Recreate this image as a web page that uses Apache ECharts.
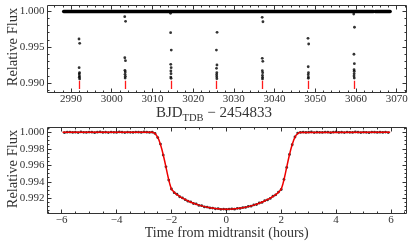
<!DOCTYPE html>
<html>
<head>
<meta charset="utf-8">
<script src="https://cdn.jsdelivr.net/npm/echarts@6/dist/echarts.min.js"></script>
<style>html,body{margin:0;padding:0;background:#fff;}#c{width:415px;height:249px;}</style>
</head>
<body>
<div id="c"></div>
<script>
// ---------- DATA: top panel (full light curve) ----------
const baselineSpans = [[2988.2, 3064.3], [3064.7, 3068.4]];   // continuous out-of-transit coverage (flux 1.000)
const baselineFlux = 1.0;
const transitEpochs = [2992.05, 3003.3, 3014.55, 3025.8, 3037.05, 3048.3, 3059.55];
const modelTopFluxRange = [0.99032, 0.98917];
const transitPoints = [
  [2991.97,0.99611],[2992.14,0.99551],[2992.0,0.99213],[2992.1,0.99143],[2992.03,0.99125],[2992.08,0.99097],[2992.05,0.99079],[2992.12,0.99056],
  [3003.2,0.99921],[3003.41,0.99857],[3003.22,0.99351],[3003.38,0.99310],[3003.25,0.99176],[3003.33,0.99153],[3003.28,0.99121],[3003.35,0.99093],[3003.3,0.99069],
  [3014.45,0.99968],[3014.47,0.99699],[3014.63,0.99458],[3014.5,0.99260],[3014.6,0.99213],[3014.53,0.99167],[3014.57,0.99129],[3014.52,0.99083],[3014.58,0.99065],
  [3025.88,0.99704],[3025.72,0.99458],[3025.85,0.99250],[3025.75,0.99204],[3025.82,0.99143],[3025.78,0.99115],[3025.8,0.99088],[3025.83,0.99060],
  [3036.96,0.99912],[3037.15,0.99851],[3036.98,0.99343],[3037.12,0.99301],[3037.0,0.99171],[3037.08,0.99143],[3037.03,0.99107],[3037.06,0.99079],[3037.04,0.99056],
  [3048.22,0.99621],[3048.38,0.99542],[3048.27,0.99226],[3048.33,0.99143],[3048.28,0.99115],[3048.31,0.99083],[3048.3,0.99065],
  [3059.45,0.99958],[3059.63,0.99774],[3059.5,0.99399],[3059.6,0.99268],[3059.53,0.99185],[3059.57,0.99163],[3059.55,0.99129],[3059.52,0.99097],[3059.58,0.99069]
];
const topXTicks = [2990, 3000, 3010, 3020, 3030, 3040, 3050, 3060, 3070];
const topYTicks = [0.990, 0.995, 1.000];

// ---------- DATA: bottom panel (phase-folded transit) ----------
const binStartHours = -5.9, binStepHours = 0.1;
const binnedFlux = [
  0.99996,1.00001,1.00003,0.99999,1.00002,0.99997,1.00004,1.00000,0.99998,1.00003,
  1.00001,0.99996,1.00002,1.00005,0.99999,1.00001,0.99997,1.00003,1.00000,0.99998,
  1.00004,1.00001,0.99997,1.00002,1.00000,0.99998,1.00003,1.00001,0.99999,1.00004,
  1.00002,0.99998,1.00001,
  0.99986,0.99936,0.99857,0.99724,0.99582,0.99421,0.99313,0.99268,0.99249,0.99219,
  0.99205,0.99183,0.99165,0.99156,0.99137,0.99132,0.99114,0.99111,0.99096,0.99094,
  0.99083,0.99082,0.99072,0.99075,0.99066,0.99070,0.99065,0.99069,0.99072,0.99068,
  0.99078,0.99077,0.99088,0.99090,0.99102,0.99105,0.99120,0.99125,0.99143,0.99150,
  0.99171,0.99180,0.99199,0.99226,0.99242,0.99276,0.99307,0.99429,0.99574,0.99731,
  0.99849,0.99943,0.99991,0.99999,
  1.00003,0.99998,1.00001,1.00004,0.99997,1.00002,1.00000,0.99998,1.00003,1.00001,
  0.99996,1.00002,1.00004,0.99999,1.00001,0.99997,1.00003,1.00000,0.99998,1.00004,
  1.00001,0.99997,1.00002,1.00000,0.99996,1.00003,1.00001,0.99998,1.00002,0.99999,
  1.00003,0.99997
];
const modelHours = [-5.97,-2.7,-2.65,-2.6,-2.55,-2.5,-2.45,-2.4,-2.35,-2.3,-2.25,-2.2,-2.15,-2.1,-2.05,-2.0,-1.9,-1.8,-1.7,-1.6,-1.4,-1.2,-1.0,-0.8,-0.6,-0.4,-0.2,0,
  0.2,0.4,0.6,0.8,1.0,1.2,1.4,1.6,1.7,1.8,1.9,2.0,2.05,2.1,2.15,2.2,2.25,2.3,2.35,2.4,2.45,2.5,2.55,2.6,2.65,2.7,5.97];
const modelFlux = [1.0,1.0,0.99998,0.99988,0.99968,0.99940,0.99902,0.99853,0.99795,0.99728,0.99655,0.99578,0.99500,0.99425,0.99360,0.99310,0.99272,0.99245,0.99222,0.99202,0.99168,0.99140,0.99117,0.99099,0.99085,0.99075,0.99069,0.99067,
  0.99069,0.99075,0.99085,0.99099,0.99117,0.99140,0.99168,0.99202,0.99222,0.99245,0.99272,0.99310,0.99360,0.99425,0.99500,0.99578,0.99655,0.99728,0.99795,0.99853,0.99902,0.99940,0.99968,0.99988,0.99998,1.0,1.0];
const botXTicks = [-6, -4, -2, 0, 2, 4, 6];
const botYTicks = [0.992, 0.994, 0.996, 0.998, 1.000];

// ---------- helpers ----------
function range(a, b, s) { const r = []; for (let v = a; v <= b + s / 1000; v += s) r.push(+v.toFixed(6)); return r; }
const topXMinor = range(2986, 3072, 2);
const topYMinor = range(0.989, 1.000, 0.001);
const botXMinor = range(-6.5, 6.5, 0.5);
const botYMinor = range(0.9905, 1.0005, 0.0005);

const FONT = "'Liberation Serif', 'DejaVu Serif', serif";
const INK = '#333';
const minusFmt = d => v => (v < 0 ? '\u2212' : '') + Math.abs(v).toFixed(d);

function axis(kind, grid, pos, min, max, ticks, len, labelFmt) {
  return {
    type: 'value', gridIndex: grid, position: pos, min: min, max: max, scale: true,
    axisLine: { show: false, onZero: false }, splitLine: { show: false },
    axisTick: { show: true, inside: true, length: len, customValues: ticks, lineStyle: { color: INK, width: 1 } },
    axisLabel: { show: !!labelFmt, customValues: ticks, formatter: labelFmt || undefined, margin: kind === 'x' ? 1.5 : 3,
      fontFamily: FONT, fontSize: 11, color: INK }
  };
}

const topX = [2984.23, 3072.41], topY = [0.988681, 1.000764];
const botX = [-6.517, 6.565], botY = [0.990158, 1.000582];

const grids = [
  { left: 47.5, top: 5.5, width: 359, height: 87, show: true, borderColor: INK, borderWidth: 1, backgroundColor: 'transparent' },
  { left: 47.5, top: 5.5, width: 359, height: 87 },
  { left: 47.5, top: 127.5, width: 359, height: 86, show: true, borderColor: INK, borderWidth: 1, backgroundColor: 'transparent' },
  { left: 47.5, top: 127.5, width: 359, height: 86 }
];
const xAxes = [
  axis('x', 0, 'bottom', topX[0], topX[1], topXTicks, 4, v => String(v)),
  axis('x', 0, 'top', topX[0], topX[1], topXTicks, 4),
  axis('x', 1, 'bottom', topX[0], topX[1], topXMinor, 2),
  axis('x', 1, 'top', topX[0], topX[1], topXMinor, 2),
  axis('x', 2, 'bottom', botX[0], botX[1], botXTicks, 4, minusFmt(0)),
  axis('x', 2, 'top', botX[0], botX[1], botXTicks, 4),
  axis('x', 3, 'bottom', botX[0], botX[1], botXMinor, 2),
  axis('x', 3, 'top', botX[0], botX[1], botXMinor, 2)
];
const yAxes = [
  axis('y', 0, 'left', topY[0], topY[1], topYTicks, 4, minusFmt(3)),
  axis('y', 0, 'right', topY[0], topY[1], topYTicks, 4),
  axis('y', 1, 'left', topY[0], topY[1], topYMinor, 2),
  axis('y', 1, 'right', topY[0], topY[1], topYMinor, 2),
  axis('y', 2, 'left', botY[0], botY[1], botYTicks, 4, minusFmt(3)),
  axis('y', 2, 'right', botY[0], botY[1], botYTicks, 4),
  axis('y', 3, 'left', botY[0], botY[1], botYMinor, 2),
  axis('y', 3, 'right', botY[0], botY[1], botYMinor, 2)
];

const series = [];
series.push({
  type: 'lines', coordinateSystem: 'cartesian2d', xAxisIndex: 0, yAxisIndex: 0, silent: true, z: 3,
  lineStyle: { color: '#000', width: 3.4, opacity: 1, cap: 'round' },
  data: baselineSpans.map(s => ({ coords: [[s[0], baselineFlux], [s[1], baselineFlux]] }))
});
series.push({
  type: 'scatter', xAxisIndex: 0, yAxisIndex: 0, symbolSize: 2.8, z: 4,
  itemStyle: { color: '#000' }, data: transitPoints
});
series.push({
  type: 'lines', coordinateSystem: 'cartesian2d', xAxisIndex: 0, yAxisIndex: 0, silent: true, z: 5,
  lineStyle: { color: '#ff1a1a', width: 1.3, opacity: 1 },
  data: transitEpochs.map(t => ({ coords: [[t, modelTopFluxRange[0]], [t, modelTopFluxRange[1]]] }))
});
series.push({
  type: 'scatter', xAxisIndex: 4, yAxisIndex: 4, symbolSize: 2.8, z: 4,
  itemStyle: { color: '#000' },
  data: binnedFlux.map((f, i) => [binStartHours + i * binStepHours, f])
});
series.push({
  type: 'line', xAxisIndex: 4, yAxisIndex: 4, showSymbol: false, z: 5,
  lineStyle: { color: '#ee0000', width: 1.5 },
  data: modelHours.map((h, i) => [h, modelFlux[i]])
});

const graphic = [
  { type: 'text', x: 13.5, y: 47, rotation: Math.PI / 2, silent: true,
    style: { text: 'Relative Flux', fontFamily: FONT, fontSize: 14.5, fill: INK, align: 'center', verticalAlign: 'middle' } },
  { type: 'text', x: 13.5, y: 169, rotation: Math.PI / 2, silent: true,
    style: { text: 'Relative Flux', fontFamily: FONT, fontSize: 14.5, fill: INK, align: 'center', verticalAlign: 'middle' } },
  { type: 'text', x: 214, y: 105.5, silent: true,
    style: { text: '{m|BJD}{s|TDB}{m| \u2212 2454833}', align: 'center', verticalAlign: 'top',
      rich: {
        m: { fontFamily: FONT, fontSize: 15, lineHeight: 18, verticalAlign: 'top', fill: INK },
        s: { fontFamily: FONT, fontSize: 10.5, lineHeight: 11, verticalAlign: 'bottom', fill: INK }
      } } },
  { type: 'text', x: 226.7, y: 233, silent: true,
    style: { text: 'Time from midtransit (hours)', fontFamily: FONT, fontSize: 14, fill: INK, align: 'center', verticalAlign: 'middle' } }
];

const chart = echarts.init(document.getElementById('c'), null, { renderer: 'canvas' });
chart.setOption({
  animation: false, backgroundColor: '#fff',
  grid: grids, xAxis: xAxes, yAxis: yAxes, series: series, graphic: graphic
});
</script>
</body>
</html>
